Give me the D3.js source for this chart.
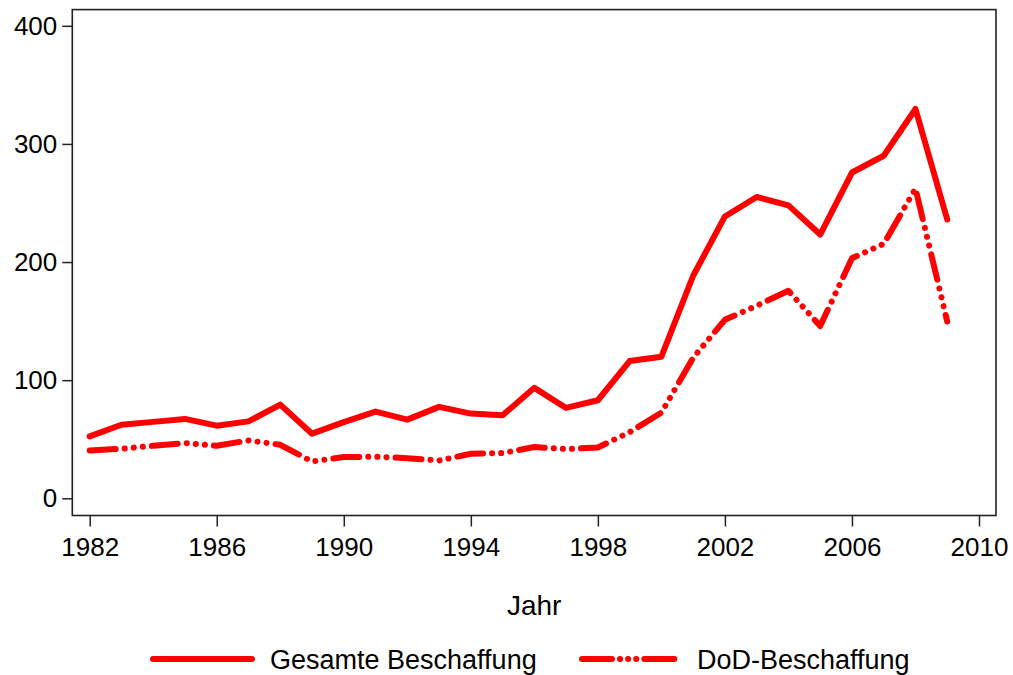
<!DOCTYPE html>
<html>
<head>
<meta charset="utf-8">
<script src="https://cdn.jsdelivr.net/npm/d3@7"></script>
<style>
  html, body { margin: 0; padding: 0; background: #fff; }
  svg { display: block; font-family: "Liberation Sans", Arial, sans-serif; }
</style>
</head>
<body>
<svg id="chart" width="1013" height="675"></svg>
<script>
const years = [1982,1983,1984,1985,1986,1987,1988,1989,1990,1991,1992,1993,1994,1995,1996,1997,1998,1999,2000,2001,2002,2003,2004,2005,2006,2007,2008,2009];
const gesamte = [52.4,62.3,64.7,67.2,61.5,65.1,79.3,54.7,64.5,73.4,66.6,77.4,71.7,70.3,93.5,76.5,83,116.2,119.9,188.4,238.6,255.1,248,223.3,275.8,290,329.6,236];
const dod = [40.5,41.9,44.5,46.8,44.5,49,45.3,31.1,34.9,35.2,34,32,37.7,38.3,43.4,41.7,43,56,72.5,119,151.1,163,175.7,145.9,203.2,215.4,262.2,149.7];
const xTicks = [1982,1986,1990,1994,1998,2002,2006,2010];
const yTicks = [0,100,200,300,400];
const seriesNames = ["Gesamte Beschaffung", "DoD-Beschaffung"];
const xTitle = "Jahr";

const svg = d3.select("#chart");
const frame = {left: 72.3, right: 996, top: 9.6, bottom: 515.5};
const x = d3.scaleLinear().domain([1982, 2010]).range([89.7, 979]);
const y = d3.scaleLinear().domain([0, 400]).range([498.3, 25.8]);
const red = "#ff0000";
const dodDash = "26 9 0.1 9 0.1 9 0.1 9";

// x axis
const xAxis = svg.append("g")
  .attr("transform", `translate(0,${frame.bottom})`)
  .call(d3.axisBottom(x).tickValues(xTicks).tickFormat(d3.format("d")).tickSize(11).tickPadding(11));
// y axis
const yAxis = svg.append("g")
  .attr("transform", `translate(${frame.left},0)`)
  .call(d3.axisLeft(y).tickValues(yTicks).tickFormat(d3.format("d")).tickSize(10).tickPadding(5));
[xAxis, yAxis].forEach(g => {
  g.select(".domain").remove();
  g.selectAll(".tick line").attr("stroke", "#222").attr("stroke-width", 1.5);
  g.selectAll(".tick text").attr("fill", "#000").style("font-size", "26px").style("font-family", "'Liberation Sans', Arial, sans-serif");
});

// frame
svg.append("rect")
  .attr("x", frame.left).attr("y", frame.top)
  .attr("width", frame.right - frame.left).attr("height", frame.bottom - frame.top)
  .attr("fill", "none").attr("stroke", "#222").attr("stroke-width", 1.6);

const line = d3.line().x(d => x(d[0])).y(d => y(d[1]));

svg.append("path")
  .datum(years.map((yr, i) => [yr, gesamte[i]]))
  .attr("d", line)
  .attr("fill", "none").attr("stroke", red).attr("stroke-width", 6)
  .attr("stroke-linejoin", "round").attr("stroke-linecap", "round");

svg.append("path")
  .datum(years.map((yr, i) => [yr, dod[i]]))
  .attr("d", line)
  .attr("fill", "none").attr("stroke", red).attr("stroke-width", 6)
  .attr("stroke-dasharray", dodDash)
  .attr("stroke-linejoin", "round").attr("stroke-linecap", "round");

// x title
svg.append("text")
  .attr("x", (frame.left + frame.right) / 2).attr("y", 615)
  .attr("text-anchor", "middle").style("font-size", "28px").attr("fill", "#000")
  .text(xTitle);

// legend
const leg = svg.append("g");
leg.append("line").attr("x1", 153).attr("x2", 252).attr("y1", 659).attr("y2", 659)
  .attr("stroke", red).attr("stroke-width", 6).attr("stroke-linecap", "round");
leg.append("text").attr("x", 270).attr("y", 669).style("font-size", "27px").attr("fill", "#000").text(seriesNames[0]);
leg.append("line").attr("x1", 582).attr("x2", 675).attr("y1", 659).attr("y2", 659)
  .attr("stroke", red).attr("stroke-width", 6).attr("stroke-linecap", "round")
  .attr("stroke-dasharray", "30 8 0.1 8 0.1 8 0.1 8");
leg.append("text").attr("x", 697).attr("y", 669).style("font-size", "27px").attr("fill", "#000").text(seriesNames[1]);
</script>
</body>
</html>
